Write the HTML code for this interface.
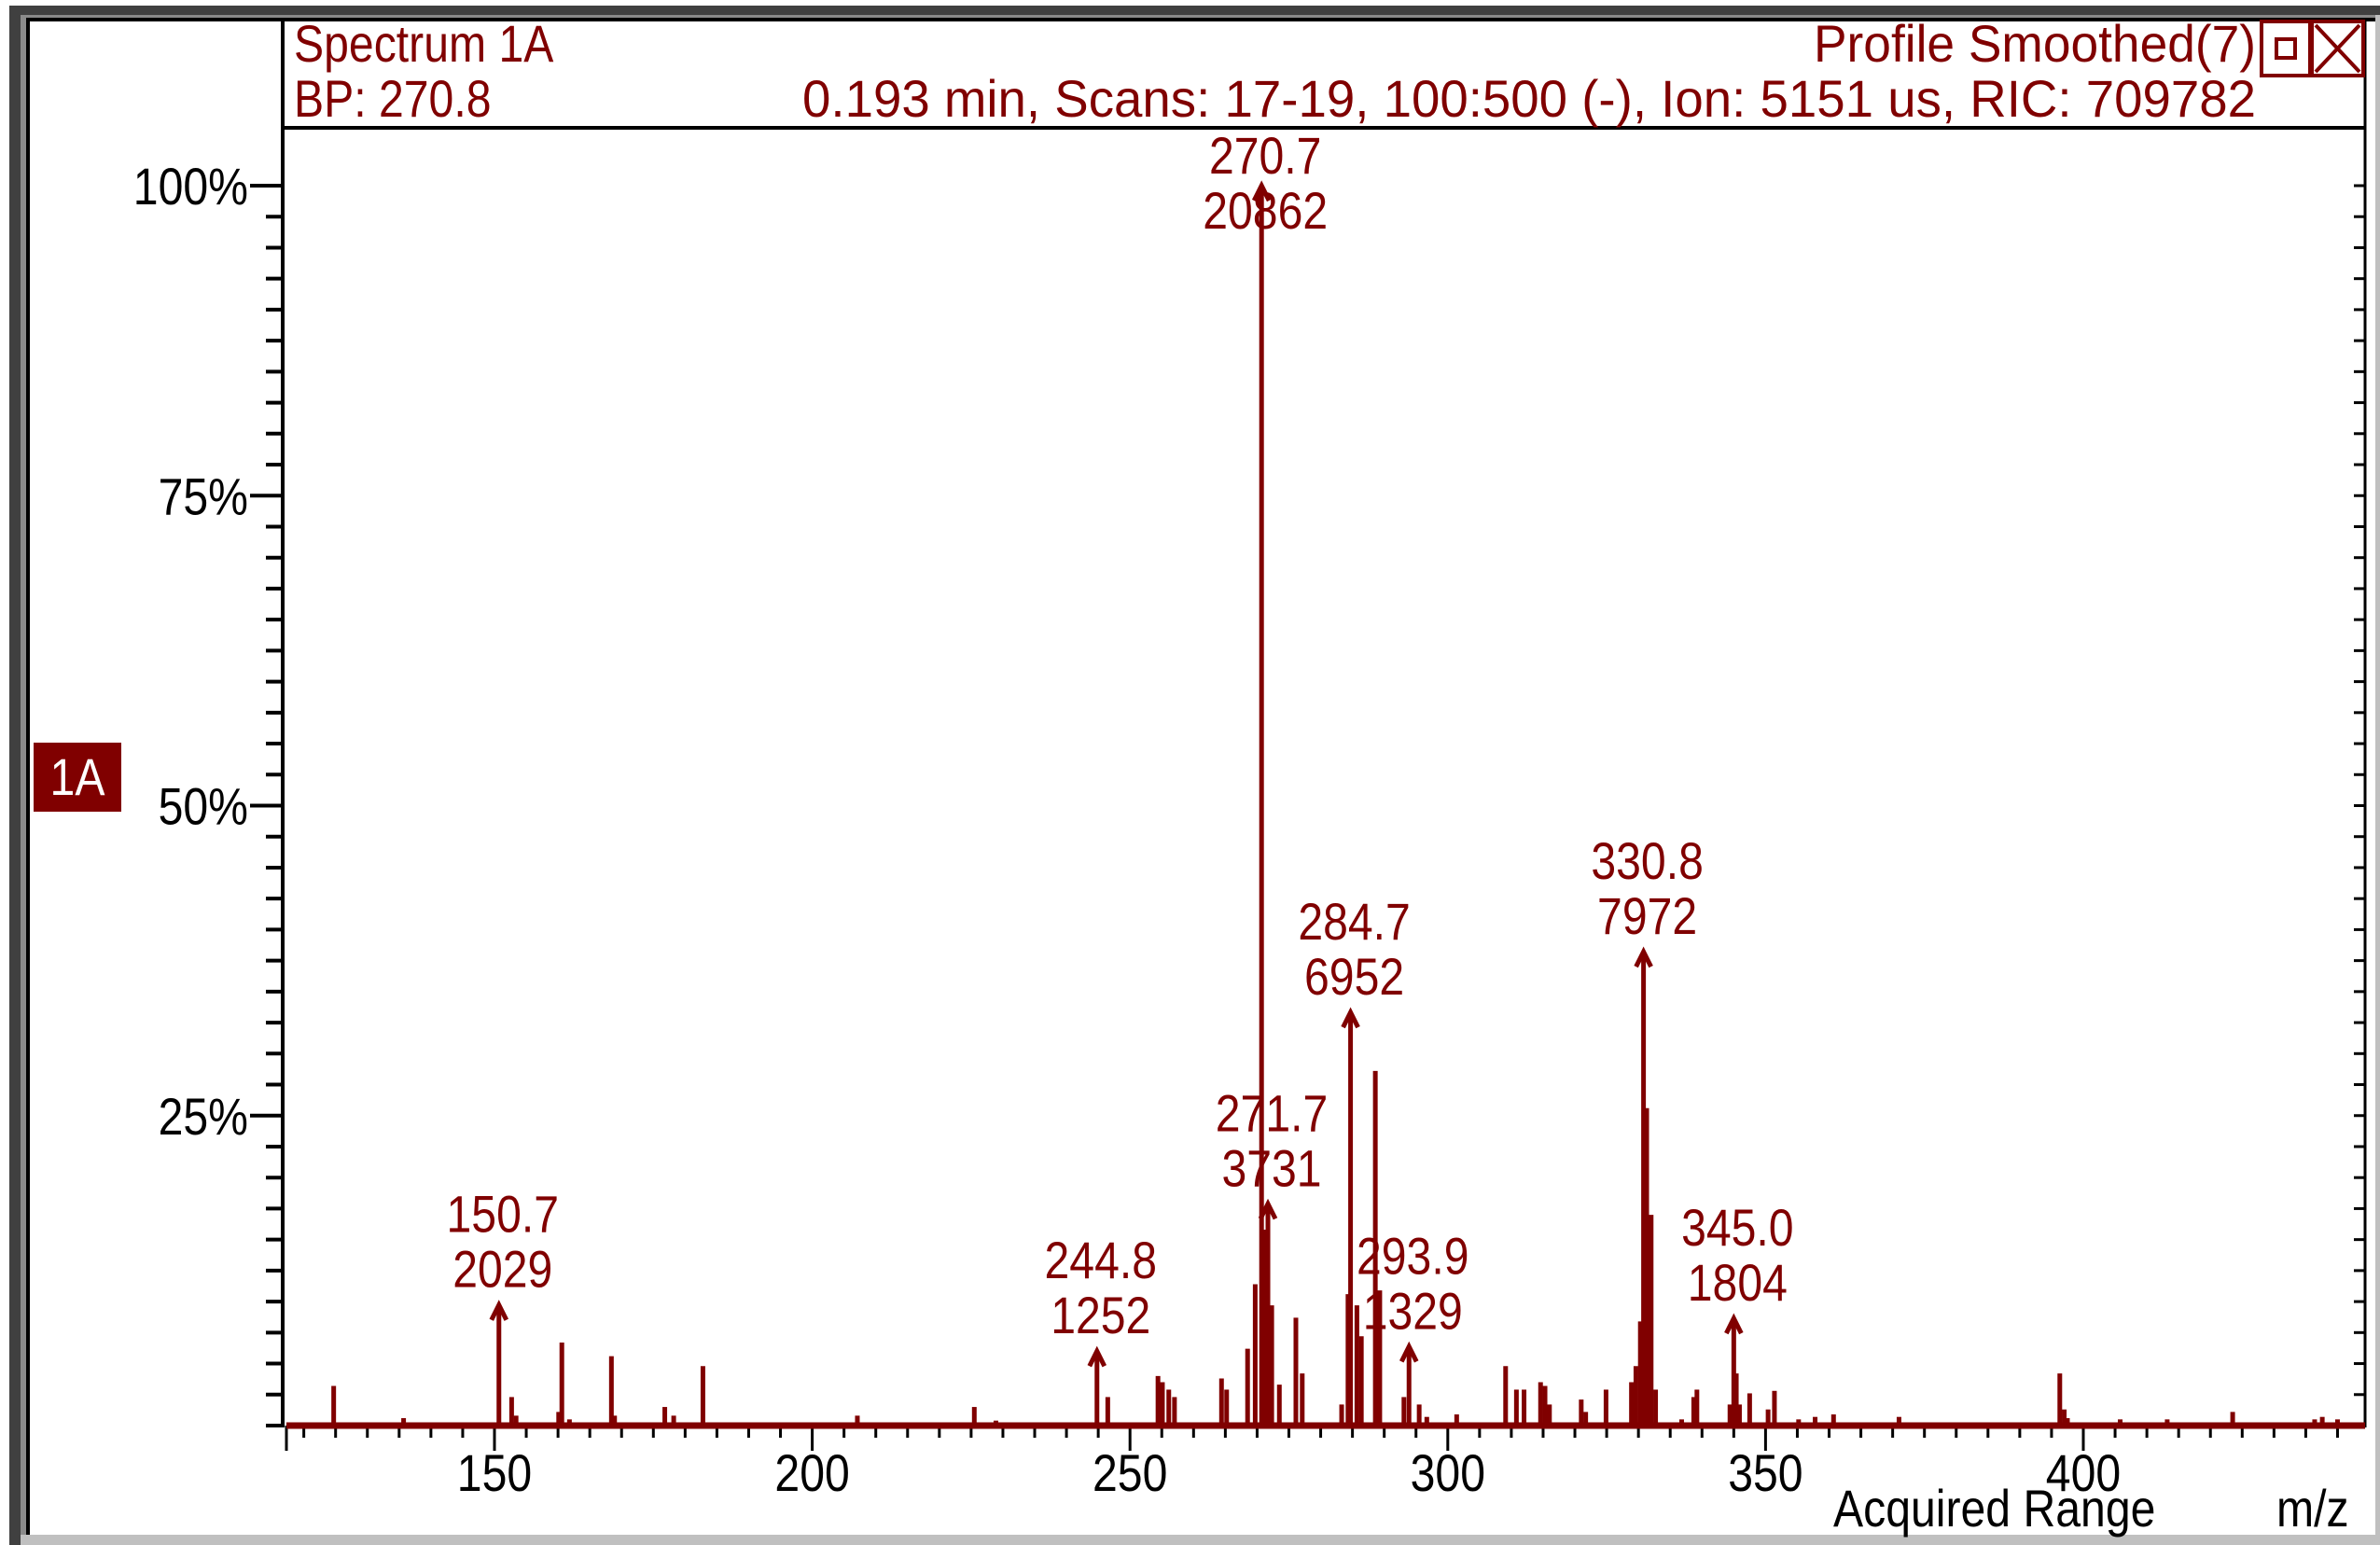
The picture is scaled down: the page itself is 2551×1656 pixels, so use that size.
<!DOCTYPE html>
<html><head><meta charset="utf-8"><style>html,body{margin:0;padding:0;background:#fff}svg{display:block}text{font-family:"Liberation Sans",sans-serif}</style></head>
<body>
<svg id="chart" width="2551" height="1656" viewBox="0 0 2551 1656" xmlns="http://www.w3.org/2000/svg">
<rect x="0" y="0" width="2551" height="1656" fill="#fff"/>
<rect x="10" y="6" width="2541" height="10" fill="#404040"/>
<rect x="16" y="16" width="2535" height="4" fill="#8a8a8a"/>
<rect x="10" y="6" width="12" height="1650" fill="#404040"/>
<rect x="22" y="16" width="6" height="1640" fill="#8a8a8a"/>
<rect x="28" y="20" width="4" height="1625" fill="#000"/>
<rect x="22" y="1645" width="2529" height="11" fill="#c0c0c0"/>
<rect x="2546" y="16" width="5" height="1640" fill="#c0c0c0"/>
<rect x="28" y="19" width="2518" height="4" fill="#000"/>
<line x1="303" y1="20" x2="303" y2="1530" stroke="#000" stroke-width="4"/>
<line x1="2535" y1="20" x2="2535" y2="1530" stroke="#000" stroke-width="3"/>
<line x1="303" y1="137" x2="2535" y2="137" stroke="#000" stroke-width="4"/>
<g fill="#800000" font-size="56">
<text x="315" y="66">Spectrum 1A</text>
<text x="315" y="125">BP: 270.8</text>
<text x="860" y="125" textLength="1558" lengthAdjust="spacingAndGlyphs">0.193 min, Scans: 17-19, 100:500 (-), Ion: 5151 us, RIC: 709782</text>
<text x="1944" y="66" textLength="474" lengthAdjust="spacingAndGlyphs">Profile Smoothed(7)</text>
</g>
<g><rect x="2424" y="23" width="52" height="58" fill="#fff" stroke="#800000" stroke-width="4"/><rect x="2440" y="42" width="20" height="20" fill="none" stroke="#800000" stroke-width="4"/></g>
<g><rect x="2478" y="23" width="55" height="58" fill="#fff" stroke="#800000" stroke-width="4"/><path d="M2482 27 L2529 77 M2529 27 L2482 77" stroke="#800000" stroke-width="4"/></g>
<g><rect x="36" y="796" width="94" height="74" fill="#800000"/><text x="83" y="852" fill="#fff" font-size="56" text-anchor="middle">1A</text></g>
<g id="yaxis"></g>
<g id="xaxis"></g>
<g id="peaks"></g>
<g id="labels"></g>
<text x="1965" y="1636" font-size="56" fill="#000">Acquired Range</text>
<text x="2440" y="1636" font-size="56" fill="#000">m/z</text>
</svg>
<script>
const yTickLabels=["25%","50%","75%","100%"];
const yTickValues=[25,50,75,100];
const xTickValues=[150,200,250,300,350,400];
const peakMz=[124.7,135.7,150.7,152.7,153.4,160.1,160.6,161.8,168.4,168.9,176.8,178.2,182.8,207.1,225.5,228.9,244.8,246.5,254.4,255.1,256.1,257.0,264.4,265.2,268.5,269.7,270.7,271.3,271.7,272.3,273.5,276.1,277.1,283.3,284.3,284.7,285.7,286.4,288.6,289.3,293.1,293.9,295.5,296.7,301.4,309.1,310.8,312.0,314.6,315.3,316.0,321.0,321.7,324.9,328.9,329.6,330.3,330.8,331.3,332.0,332.7,336.8,338.7,339.2,344.4,345.0,345.4,345.9,347.5,350.4,351.4,355.2,357.8,360.7,371.0,396.3,397.0,397.5,405.8,413.2,423.5,436.4,437.6,440.0];
const peakPct=[3.2,0.6,9.7,2.3,0.8,1.1,6.7,0.5,5.6,0.8,1.5,0.8,4.8,0.8,1.5,0.4,6.0,2.3,4.0,3.5,2.9,2.3,3.8,2.9,6.2,11.4,100,15.8,17.9,9.7,3.3,8.7,4.2,1.7,10.6,33.3,9.7,7.2,28.6,10.9,2.3,6.4,1.7,0.7,0.9,4.8,2.9,2.9,3.5,3.2,1.7,2.1,1.1,2.9,3.5,4.8,8.4,38.2,25.6,17.0,2.9,0.5,2.3,2.9,1.7,8.6,4.2,1.7,2.6,1.3,2.8,0.5,0.7,0.9,0.7,4.2,1.3,0.6,0.5,0.5,1.1,0.5,0.7,0.5];
const labelMz=["150.7","244.8","270.7","271.7","284.7","293.9","330.8","345.0"];
const labelCounts=[2029,1252,20862,3731,6952,1329,7972,1804];
const basePeakCounts=20862;
const NS="http://www.w3.org/2000/svg";
const X0=530,PXU=6.812,Y0=1528,PXP=13.29;
const xs=v=>X0+(v-150)*PXU;
const ys=p=>Y0-p*PXP;
function mk(tag,attrs,parent){const e=document.createElementNS(NS,tag);for(const k in attrs)e.setAttribute(k,attrs[k]);parent.appendChild(e);return e;}
const ya=document.getElementById('yaxis');
for(let p=0;p<=100.01;p+=2.5){const major=Math.abs(p%25)<0.01&&p>0;
 const t=mk('line',{x1:major?268:285,x2:303,y1:ys(p),y2:ys(p),stroke:'#000','stroke-width':4},ya);
 
 
 const r=mk('line',{x1:2535,x2:2523,y1:ys(p),y2:ys(p),stroke:'#000','stroke-width':3},ya);
 
 }
yTickValues.forEach((v,i)=>{const t=mk('text',{x:266,y:ys(v)+20,'font-size':56,'text-anchor':'end',fill:'#000'},ya);t.textContent=yTickLabels[i];
 
 });
const xa=document.getElementById('xaxis');
for(let v=120;v<=440;v+=5){const major=v%50===0;
 const t=mk('line',{x1:xs(v),x2:xs(v),y1:Y0,y2:major?1555:1541,stroke:'#000','stroke-width':3},xa);
 
 }
mk('line',{x1:307,x2:307,y1:Y0,y2:1555,stroke:'#000','stroke-width':3},xa);
xTickValues.forEach(v=>{const t=mk('text',{x:xs(v),y:1598,'font-size':56,'text-anchor':'middle',fill:'#000'},xa);t.textContent=String(v);
 
 });
const pk=document.getElementById('peaks');
peakMz.forEach((m,i)=>{const l=mk('line',{x1:xs(m),x2:xs(m),y1:Y0,y2:ys(peakPct[i]),stroke:'#800000','stroke-width':5},pk);
 
 });
const bl=mk('line',{x1:307,x2:2535,y1:Y0,y2:Y0,stroke:'#800000','stroke-width':7},pk);


const lb=document.getElementById('labels');
labelMz.forEach((m,i)=>{const mz=parseFloat(m);const x=xs(mz);const top=ys(labelCounts[i]/basePeakCounts*100);
 const a=mk('path',{d:`M${x-8} ${top+16} L${x} ${top} L${x+8} ${top+16}`,stroke:'#800000','stroke-width':5,fill:'none'},lb);
 
 
 const mb=Math.max(top-78,186);
 const t1=mk('text',{x:x+4,y:mb,'font-size':56,'text-anchor':'middle',fill:'#800000'},lb);t1.textContent=m;
 
 
 const t2=mk('text',{x:x+4,y:mb+59,'font-size':56,'text-anchor':'middle',fill:'#800000'},lb);t2.textContent=String(labelCounts[i]);
 
 });
// condense all text horizontally (reference font is narrow)
document.querySelectorAll('#chart text').forEach(t=>{
 if(t.hasAttribute('textLength'))return;
 const w=t.getComputedTextLength();
 if(w>0){t.setAttribute('textLength',(w*0.86).toFixed(1));t.setAttribute('lengthAdjust','spacingAndGlyphs');}
});
</script>
</body></html>
